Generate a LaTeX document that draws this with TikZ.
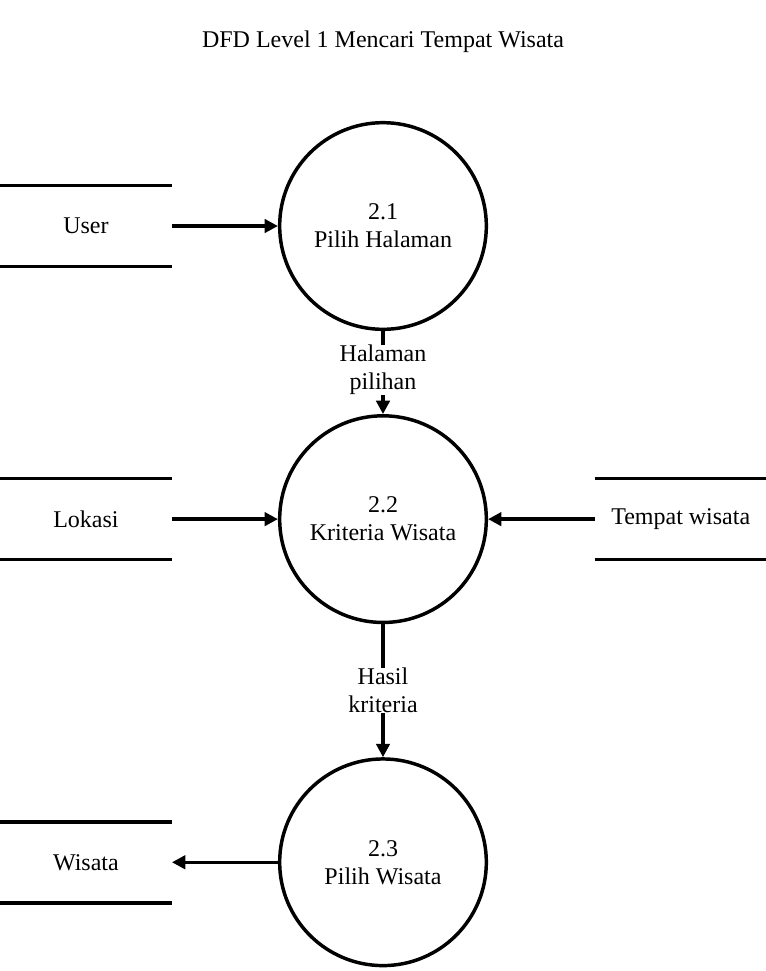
\documentclass[tikz,border=0pt]{standalone}
\usepackage{fontspec}
\setmainfont{Liberation Serif}
\usepackage{tikz}
\usetikzlibrary{positioning}
\usetikzlibrary{arrows.meta}

\begin{document}
\begin{tikzpicture}[x=0.75pt,y=-0.75pt]
    \tikzstyle{every node}=[font=\fontsize{18pt}{21pt}\selectfont]
    \tikzstyle{every path}=[line width=2.6pt]
    \tikzstyle{proc}=[draw=black,circle,minimum size=155pt,align=center,inner sep=0pt]
    \tikzstyle{store}=[minimum width=129pt,minimum height=60.75pt,inner sep=0pt,outer sep=0pt]
    \tikzstyle{flow}=[-{Triangle[length=10pt,width=10pt]}]
    \tikzstyle{lbl}=[fill=white,align=center,inner sep=0pt]

    \useasboundingbox (0,0) rectangle (766,971);
    \node (title) at (383,42) {DFD Level 1 Mencari Tempat Wisata};

    \node[proc] (pilih) at (383,226) {2.1\\Pilih Halaman};
    \node[proc,below=62.25pt of pilih] (kriteria) {2.2\\Kriteria Wisata};
    \node[proc,below=99.75pt of kriteria] (wisata) {2.3\\Pilih Wisata};

    \node[store,left=79.5pt of pilih] (user) {User};
    \node[store,left=79.5pt of kriteria] (lokasi) {Lokasi};
    \node[store,right=80pt of kriteria] (tempat) {Tempat wisata};
    \node[store,left=79.5pt of wisata] (hasil) {Wisata};

    \newcommand{\storelines}[1]{%
      \draw (#1.north west) -- (#1.north east) ;
      \draw (#1.south west) -- (#1.south east) ;}

    \storelines{user}
    \storelines{lokasi}
    \storelines{tempat}
    \storelines{hasil}

    \draw[flow] (user.east) -- (pilih.west) ;
    \draw[flow] (lokasi.east) -- (kriteria.west) ;
    \draw[flow] (tempat.west) -- (kriteria.east) ;
    \draw[flow] (wisata.west) -- (hasil.east) ;
    \draw[flow] (pilih.south) -- node[lbl,yshift=2pt] {Halaman\\pilihan} (kriteria.north) ;
    \draw[flow] (kriteria.south) -- node[lbl] {Hasil\\kriteria} (wisata.north) ;
\end{tikzpicture}
\end{document}
